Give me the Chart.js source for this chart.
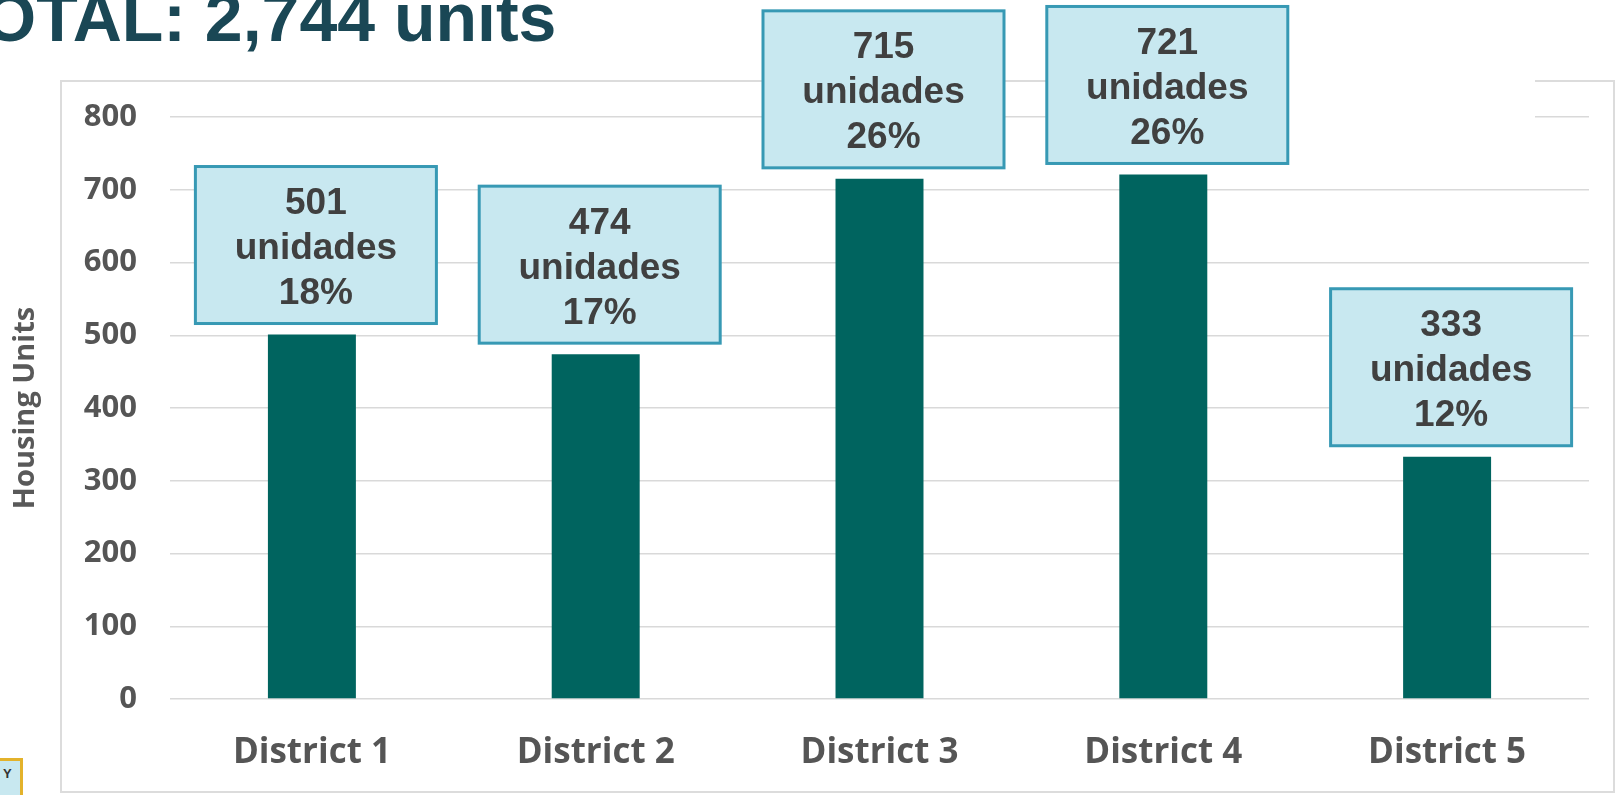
<!DOCTYPE html>
<html>
<head>
<meta charset="utf-8">
<script src="https://cdn.jsdelivr.net/npm/chart.js@4.4.1/dist/chart.umd.min.js"></script>
<style>
  html, body { margin: 0; padding: 0; width: 1615px; height: 795px; overflow: hidden; background: #ffffff; }
  #frame { position: absolute; left: 60px; top: 80px; width: 1551px; height: 709px; border: 2px solid #dcdcdc; box-sizing: content-box; }
  #wrap { position: absolute; left: 0; top: 0; width: 1615px; height: 795px; }
  #title { position: absolute; left: -57px; top: -17px; font-family: "Liberation Sans", Arial, sans-serif; font-weight: bold; font-size: 68px; line-height: 68px; color: #1a4755; white-space: nowrap; z-index: 3; }
  #corner { position: absolute; left: -30px; top: 758px; width: 47px; height: 45px; border: 3px solid #e3b22b; background: #c8e8f0; font-family: "Liberation Sans", Arial, sans-serif; font-weight: bold; font-size: 13px; color: #333; z-index: 3; }
  #corner span { position: absolute; left: 30px; top: 5px; }
</style>
</head>
<body>
<div id="frame"></div>
<div id="wrap"><canvas id="c" width="1615" height="795"></canvas></div>
<div id="title">TOTAL: 2,744 units</div>
<div id="corner"><span>Y</span></div>
<script>
const categories = ['District 1', 'District 2', 'District 3', 'District 4', 'District 5'];
const housingUnits = [501, 474, 715, 721, 333];
const unitWord = 'unidades';
const pctLabels = ['18%', '17%', '26%', '26%', '12%'];
const yTickValues = [0, 100, 200, 300, 400, 500, 600, 700, 800];
const yAxisTitle = 'Housing Units';

const labelBoxes = {
  id: 'labelBoxes',
  afterDatasetsDraw(chart) {
    const ctx = chart.ctx;
    const meta = chart.getDatasetMeta(0);
    ctx.save();
    // white patch that hides part of the frame at top right
    ctx.fillStyle = '#ffffff';
    ctx.fillRect(1287, 58, 248, 95);
    const w = 241, h = 157, gap = 11;
    meta.data.forEach((bar, i) => {
      const cx = bar.x + 4;
      let top = bar.y - gap - h;
      if (top < 5) top = 5;
      const left = cx - w / 2;
      ctx.fillStyle = '#c8e8f0';
      ctx.fillRect(left, top, w, h);
      ctx.strokeStyle = '#3799b4';
      ctx.lineWidth = 3;
      ctx.strokeRect(left, top, w, h);
      ctx.fillStyle = '#404040';
      ctx.font = 'bold 37px "Liberation Sans", Arial, sans-serif';
      ctx.textAlign = 'center';
      ctx.textBaseline = 'alphabetic';
      const mid = top + h / 2;
      const lines = [String(housingUnits[i]), unitWord, pctLabels[i]];
      lines.forEach((t, k) => {
        ctx.fillText(t, cx, mid + (k - 1) * 45 + 14);
      });
    });
    ctx.restore();
  }
};

new Chart(document.getElementById('c'), {
  type: 'bar',
  data: {
    labels: categories,
    datasets: [{
      data: housingUnits,
      backgroundColor: '#00645f',
      borderWidth: 0,
      categoryPercentage: 1,
      barPercentage: 0.31
    }]
  },
  options: {
    responsive: false,
    devicePixelRatio: 1,
    animation: false,
    layout: { padding: { top: 117, right: 26, left: 0, bottom: 0 } },
    plugins: { legend: { display: false }, tooltip: { enabled: false } },
    scales: {
      x: {
        grid: { display: false, drawTicks: false },
        border: { display: false },
        ticks: {
          color: '#555555',
          padding: 33,
          font: { family: '"Open Sans", sans-serif', size: 35, weight: '700' }
        },
        afterFit(scale) { scale.height = 96; }
      },
      y: {
        min: 0,
        max: 800,
        afterBuildTicks(scale) { scale.ticks = yTickValues.map(v => ({ value: v })); },
        grid: { color: '#d9d9d9', lineWidth: 1.5, drawTicks: false },
        border: { display: false },
        ticks: {
          color: '#555555',
          padding: 33,
          font: { family: '"Open Sans", sans-serif', size: 31, weight: '700' }
        },
        title: {
          display: true,
          text: yAxisTitle,
          color: '#595959',
          padding: { top: 8, bottom: 0 },
          font: { family: '"Open Sans", sans-serif', size: 29, weight: '700' }
        },
        afterFit(scale) { scale.width = 170; }
      }
    }
  },
  plugins: [labelBoxes]
});
</script>
</body>
</html>
